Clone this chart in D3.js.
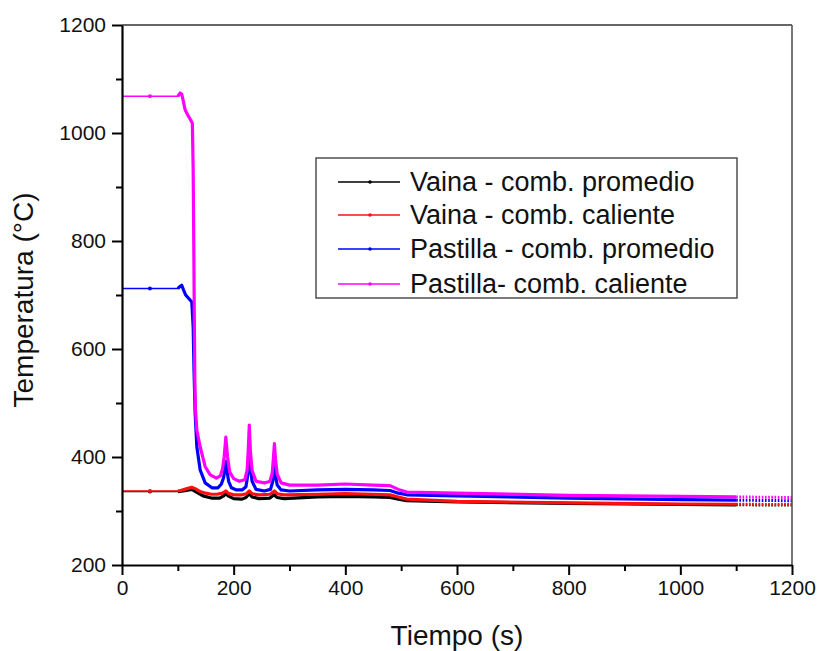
<!DOCTYPE html>
<html>
<head>
<meta charset="utf-8">
<script src="https://cdn.jsdelivr.net/npm/d3@7"></script>
<style>
  html, body { margin: 0; padding: 0; background: #fff; }
  svg { display: block; font-family: "Liberation Sans", Arial, sans-serif; }
</style>
</head>
<body>
<svg id="chart" width="819" height="651"></svg>
<script>
// ---------------- data ----------------
const seriesNames = [
  "Vaina - comb. promedio",
  "Vaina - comb. caliente",
  "Pastilla - comb. promedio",
  "Pastilla- comb. caliente"
];
const seriesColors = ["#000000", "#ff1010", "#0000ff", "#ff00ff"];

const xTicks = [0, 200, 400, 600, 800, 1000, 1200];
const yTicks = [200, 400, 600, 800, 1000, 1200];

// Vaina - comb. promedio (black)
const tVainaProm = [0, 50, 100, 110, 125, 135, 145, 160, 175, 182, 186, 190, 200, 215, 222, 228, 233, 245, 265, 272, 278, 290, 350, 400, 450, 480, 495, 510, 600, 800, 1000, 1100, 1200];
const vVainaProm = [336, 336, 336, 337, 340, 334, 328, 324, 324, 328, 333, 328, 323, 322, 325, 332, 326, 323, 324, 330, 325, 323, 326, 327, 326, 325, 322, 319, 317, 314, 312, 311.5, 311];

// Vaina - comb. caliente (red)
const tVainaCal = [0, 50, 100, 105, 115, 125, 132, 140, 150, 160, 170, 180, 186, 190, 200, 215, 223, 228, 233, 245, 265, 273, 278, 290, 350, 400, 450, 480, 495, 510, 600, 800, 1000, 1100, 1200];
const vVainaCal = [337, 337, 337, 338, 341, 344, 341, 336, 333, 331, 331, 333, 337, 333, 330, 330, 332, 337, 332, 330, 331, 337, 332, 330, 331, 332, 331, 330, 326, 322, 318, 315, 313, 312.5, 312];

// Pastilla - comb. promedio (blue)
const tPastProm = [0, 50, 100, 104, 107, 110, 114, 120, 125, 127.5, 129, 131, 134, 140, 149, 161, 172, 178, 182, 184, 186, 188, 191, 196, 205, 215, 222, 225, 227, 228, 230, 233, 240, 255, 266, 270, 272, 273, 275, 278, 285, 300, 350, 400, 450, 480, 495, 510, 600, 800, 1000, 1100, 1200];
const vPastProm = [712, 712, 712, 716, 718, 710, 700, 693, 687, 640, 560, 481, 419, 376, 352, 343, 343, 350, 362, 375, 392, 375, 355, 343, 339, 339, 345, 365, 385, 404, 380, 355, 340, 337, 340, 355, 375, 385, 365, 348, 339, 337, 339, 340, 339, 338, 333, 330, 328, 324, 321, 320, 319];

// Pastilla- comb. caliente (magenta)
const tPastCal = [0, 50, 100, 104, 107, 110, 113, 118, 123, 126, 127.5, 128.5, 129.5, 130.5, 131.5, 134, 140, 149, 158, 169, 176, 180, 183, 186, 189, 193, 200, 210, 220, 224, 226, 228, 230, 233, 240, 255, 265, 269, 271, 273, 275, 278, 285, 300, 350, 400, 450, 480, 495, 510, 600, 800, 1000, 1100, 1200];
const vPastCal = [1068, 1068, 1068, 1074, 1072, 1058, 1043, 1033, 1024, 1018, 930, 800, 660, 540, 490, 450, 419, 382, 367, 361, 365, 378, 400, 437, 400, 372, 360, 355, 358, 375, 410, 459, 410, 375, 355, 352, 355, 370, 395, 425, 395, 368, 352, 348, 348, 350, 348, 347, 340, 335, 333, 329, 327, 326, 325];

const seriesT = [tVainaProm, tVainaCal, tPastProm, tPastCal];
const seriesV = [vVainaProm, vVainaCal, vPastProm, vPastCal];

// ---------------- layout ----------------
const svg = d3.select("#chart");
const L = 122, R = 792, T = 25, B = 565;

const x = d3.scaleLinear().domain([0, 1200]).range([L, R]);
const y = d3.scaleLinear().domain([200, 1200]).range([B, T]);

const series = seriesNames.map((name, i) => ({
  name,
  color: seriesColors[i],
  pts: seriesT[i].map((t, j) => ({ t, v: seriesV[i][j] }))
}));

const line = d3.line().x(d => x(d.t)).y(d => y(d.v));

const plot = svg.append("g");
series.forEach(s => {
  plot.append("path")
    .attr("d", line(s.pts.filter(p => p.t <= 104)))
    .attr("fill", "none").attr("stroke", s.color).attr("stroke-width", 1.4);
  plot.append("path")
    .attr("d", line(s.pts.filter(p => p.t >= 100 && p.t <= 1100)))
    .attr("fill", "none").attr("stroke", s.color).attr("stroke-width", 3.2)
    .attr("stroke-linejoin", "round");
  plot.append("path")
    .attr("d", line(s.pts.filter(p => p.t >= 1100)))
    .attr("fill", "none").attr("stroke", s.color).attr("stroke-width", 3)
    .attr("stroke-dasharray", "1.6,1.6");
  const m = s.pts.find(p => p.t === 50);
  plot.append("circle").attr("cx", x(m.t)).attr("cy", y(m.v)).attr("r", 2)
    .attr("fill", s.color);
});

// ---------------- axes ----------------
svg.append("line").attr("x1", L).attr("x2", R).attr("y1", T).attr("y2", T)
  .attr("stroke", "#333").attr("stroke-width", 1.6);
svg.append("line").attr("x1", R).attr("x2", R).attr("y1", T).attr("y2", B)
  .attr("stroke", "#555").attr("stroke-width", 1.6);

const xMinor = d3.range(100, 1200, 200);
const yMinor = d3.range(300, 1200, 200);

svg.append("g").attr("transform", `translate(0,${B})`)
  .call(d3.axisBottom(x).tickValues(xTicks).tickSize(10).tickSizeOuter(0).tickPadding(5).tickFormat(d3.format("d")));
svg.append("g").attr("transform", `translate(0,${B})`)
  .call(d3.axisBottom(x).tickValues(xMinor).tickSize(6).tickSizeOuter(0).tickFormat(""))
  .select(".domain").remove();

svg.append("g").attr("transform", `translate(${L},0)`)
  .call(d3.axisLeft(y).tickValues(yTicks).tickSize(10).tickSizeOuter(0).tickPadding(6).tickFormat(d3.format("d")));
svg.append("g").attr("transform", `translate(${L},0)`)
  .call(d3.axisLeft(y).tickValues(yMinor).tickSize(6).tickSizeOuter(0).tickFormat(""))
  .select(".domain").remove();

svg.selectAll(".domain").attr("stroke", "#000").attr("stroke-width", 2.2);
svg.selectAll(".tick line").attr("stroke", "#000").attr("stroke-width", 2);
svg.selectAll(".tick text").attr("font-size", 21).attr("fill", "#111")
  .attr("font-family", "'Liberation Sans', Arial, sans-serif");

// axis titles
svg.append("text").attr("x", 457).attr("y", 645).attr("text-anchor", "middle")
  .attr("font-size", 28).attr("fill", "#111").text("Tiempo (s)");
svg.append("text").attr("transform", `translate(33,300) rotate(-90)`)
  .attr("text-anchor", "middle").attr("font-size", 28).attr("fill", "#111")
  .text("Temperatura (°C)");

// ---------------- legend ----------------
const lg = svg.append("g");
lg.append("rect").attr("x", 316).attr("y", 158).attr("width", 421).attr("height", 140)
  .attr("fill", "#fff").attr("stroke", "#444").attr("stroke-width", 1.4);
const rowY = [182, 215, 249, 284];
series.forEach((s, i) => {
  lg.append("line").attr("x1", 338).attr("x2", 400).attr("y1", rowY[i]).attr("y2", rowY[i])
    .attr("stroke", s.color).attr("stroke-width", 1.4);
  lg.append("circle").attr("cx", 370).attr("cy", rowY[i]).attr("r", 1.8).attr("fill", s.color);
  lg.append("text").attr("x", 410).attr("y", rowY[i] + 9).attr("font-size", 27)
    .attr("fill", "#111").text(s.name);
});
</script>
</body>
</html>
